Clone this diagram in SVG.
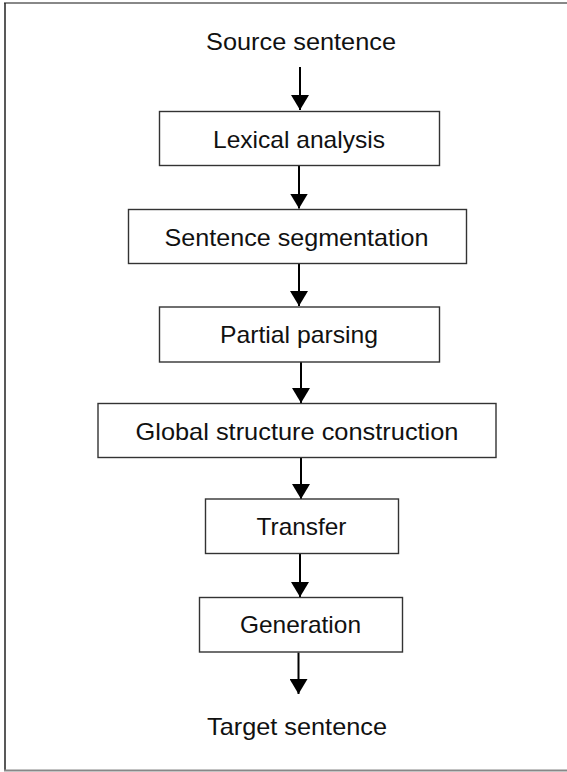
<svg xmlns="http://www.w3.org/2000/svg" width="567" height="772" viewBox="0 0 567 772">
<style>
.box{fill:#fff;stroke:#333;stroke-width:1.4}
.lbl{font-family:"Liberation Sans",Arial,sans-serif;font-size:24px;fill:#111;text-anchor:middle}
.conn{stroke:#000;stroke-width:2;fill:none}
</style>
<defs>
<marker id="ah" viewBox="0 0 15 18" refX="15" refY="9" markerWidth="15" markerHeight="18" markerUnits="userSpaceOnUse" orient="auto">
<path d="M0,0 L15,9 L0,18 z" fill="#000"/>
</marker>
</defs>
<rect width="567" height="772" fill="#fff"/>
<g id="frame">
<line x1="4" y1="3" x2="567" y2="3" stroke="#888" stroke-width="2"/>
<line x1="5" y1="3" x2="5" y2="770" stroke="#222" stroke-width="1.5"/>
<line x1="4" y1="770.5" x2="567" y2="770.5" stroke="#888" stroke-width="2"/>
</g>
<g id="connectors">
<line class="conn" x1="300" y1="67" x2="300" y2="110" marker-end="url(#ah)"/>
<line class="conn" x1="299" y1="166" x2="299" y2="208.5" marker-end="url(#ah)"/>
<line class="conn" x1="299" y1="263.5" x2="299" y2="306" marker-end="url(#ah)"/>
<line class="conn" x1="301" y1="362" x2="301" y2="403" marker-end="url(#ah)"/>
<line class="conn" x1="301" y1="458" x2="301" y2="499" marker-end="url(#ah)"/>
<line class="conn" x1="300" y1="553.5" x2="300" y2="597" marker-end="url(#ah)"/>
<line class="conn" x1="298.5" y1="652.5" x2="298.5" y2="694" marker-end="url(#ah)"/>
</g>
<g id="source">
<text class="lbl" x="301" y="50" textLength="190" lengthAdjust="spacingAndGlyphs">Source sentence</text>
</g>
<g id="lexical">
<rect class="box" x="159.5" y="111.5" width="280" height="54"/>
<text class="lbl" x="299" y="148" textLength="172" lengthAdjust="spacingAndGlyphs">Lexical analysis</text>
</g>
<g id="segmentation">
<rect class="box" x="128.5" y="209.5" width="338" height="54"/>
<text class="lbl" x="296.5" y="246" textLength="264" lengthAdjust="spacingAndGlyphs">Sentence segmentation</text>
</g>
<g id="partial">
<rect class="box" x="159.5" y="307" width="280" height="55"/>
<text class="lbl" x="299" y="343" textLength="158" lengthAdjust="spacingAndGlyphs">Partial parsing</text>
</g>
<g id="global">
<rect class="box" x="98" y="403.5" width="398" height="54"/>
<text class="lbl" x="297" y="440" textLength="323" lengthAdjust="spacingAndGlyphs">Global structure construction</text>
</g>
<g id="transfer">
<rect class="box" x="205.5" y="499" width="193" height="54.5"/>
<text class="lbl" x="301.5" y="535" textLength="90" lengthAdjust="spacingAndGlyphs">Transfer</text>
</g>
<g id="generation">
<rect class="box" x="199.5" y="597.5" width="203" height="54.5"/>
<text class="lbl" x="300.5" y="633" textLength="121" lengthAdjust="spacingAndGlyphs">Generation</text>
</g>
<g id="target">
<text class="lbl" x="297" y="735" textLength="180" lengthAdjust="spacingAndGlyphs">Target sentence</text>
</g>
</svg>
